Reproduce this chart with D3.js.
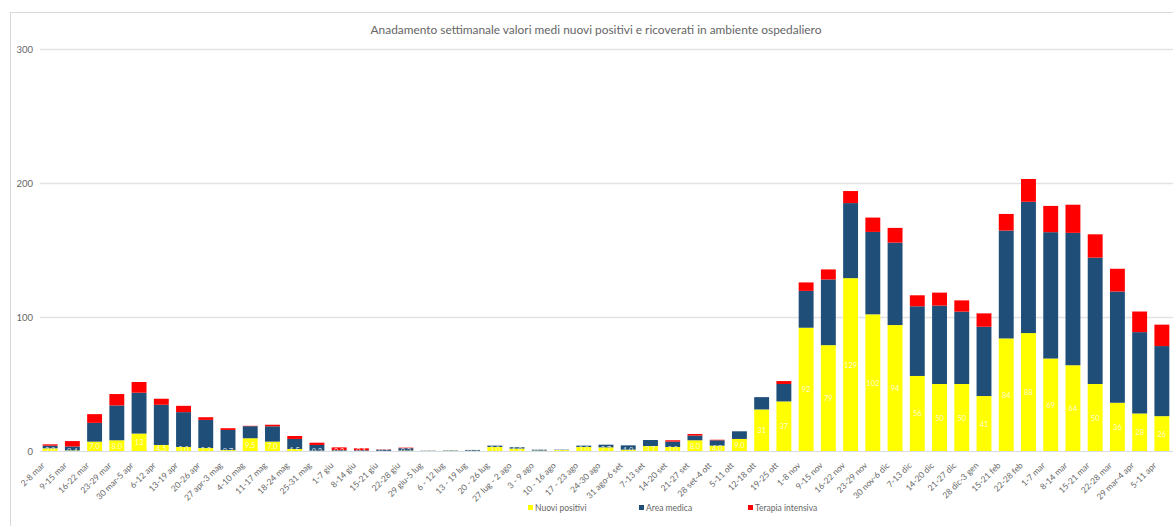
<!DOCTYPE html>
<html>
<head>
<meta charset="utf-8">
<script src="https://cdn.jsdelivr.net/npm/d3@7"></script>
<style>
  body { margin: 0; background: #fff; }
  svg { display: block; }
</style>
</head>
<body>
<svg id="chart" width="1173" height="526"></svg>
<script>
// weekly categories
const weeks = [
  "2-8 mar", "9-15 mar", "16-22 mar", "23-29 mar", "30 mar-5 apr", "6-12 apr",
  "13-19 apr", "20-26 apr", "27 apr-3 mag", "4-10 mag", "11-17 mag", "18-24 mag",
  "25-31 mag", "1-7 giu", "8-14 giu", "15-21 giu", "22-28 giu", "29 giu-5 lug",
  "6 - 12 lug", "13 - 19 lug", "20 - 26 lug", "27 lug - 2 ago", "3 - 9 ago",
  "10 - 16 ago", "17 - 23 ago", "24-30 ago", "31 ago-6 set", "7-13 set",
  "14-20 set", "21-27 set", "28 set-4 ott", "5-11 ott", "12-18 ott", "19-25 ott",
  "1-8 nov", "9-15 nov", "16-22 nov", "23-29 nov", "30 nov-6 dic", "7-13 dic",
  "14-20 dic", "21-27 dic", "28 dic-3 gen", "15-21 feb", "22-28 feb", "1-7 mar",
  "8-14 mar", "15-21 mar", "22-28 mar", "29 mar-4 apr", "5-11 apr"
];

const nuoviPositivi = [
  2, 0.4, 7, 8, 13, 4.5, 3, 2.2, 0.7, 9.5, 7, 1.5,
  0.2, 0.2, 0.1, 0.1, 0.3, 0.1, 0.2, 0.2, 3, 1.8, 0.3,
  0.7, 3, 2.7, 1, 3.7, 3, 8, 4, 9, 31, 37,
  92, 79, 129, 102, 94, 56, 50, 50, 41, 84, 88, 69,
  64, 50, 36, 28, 26
];

const areaMedica = [
  2, 3, 14, 26, 30.5, 30, 26, 21, 15, 9, 11.4, 7.5,
  4.3, 0.5, 0.5, 0.9, 1.8, 0.2, 0.3, 0.6, 1, 1, 0.7,
  0.3, 1, 2, 3.2, 4.5, 4, 3.5, 4, 5.7, 9.2, 13,
  27.5, 49, 56, 61.5, 61.5, 52, 58.5, 54, 51.7, 80.5, 98, 94.3,
  98.8, 94.3, 83, 60.7, 52.3
];

const terapiaIntensiva = [
  1, 4, 6.5, 8.5, 8, 4.5, 4.7, 2, 1.3, 0.3, 1.2, 2.2,
  1.7, 2, 1.4, 0.2, 0.4, 0, 0, 0, 0, 0, 0,
  0, 0, 0, 0, 0, 1, 1.2, 0.4, 0, 0, 2.2,
  6.3, 7.5, 9, 10.7, 11, 8.2, 9.7, 8.4, 10, 12.4, 17, 19.6,
  21, 17.4, 17, 15.4, 16
];

const yTicks = [0, 100, 200, 300];

const seriesNames = ["Nuovi positivi", "Area medica", "Terapia intensiva"];
const seriesKeys = ["np", "am", "ti"];
const colors = ["#ffff00", "#1f4e79", "#ff0000"];

const rows = weeks.map((w, i) => ({
  week: w, np: nuoviPositivi[i], am: areaMedica[i], ti: terapiaIntensiva[i]
}));

const svg = d3.select("#chart");
const font = "Lato, 'Open Sans', sans-serif";
const textColor = "#666666";

// chart frame (runs off the page on the right and bottom)
svg.append("rect")
  .attr("x", 10.5).attr("y", 12.5)
  .attr("width", 1300).attr("height", 600)
  .attr("fill", "none")
  .attr("stroke", "#d9d9d9");

svg.append("text")
  .attr("x", 596).attr("y", 34)
  .attr("text-anchor", "middle")
  .attr("font-family", font)
  .attr("font-size", "11.9px")
  .attr("fill", textColor)
  .text("Anadamento settimanale valori medi nuovi positivi e ricoverati in ambiente ospedaliero");

const x = d3.scaleBand()
  .domain(weeks)
  .range([39, 1173])
  .paddingInner(0.33)
  .paddingOuter(0.165);

const y = d3.scaleLinear()
  .domain([0, 300])
  .range([451, 49]);

// gridlines
svg.append("g")
  .selectAll("line")
  .data(yTicks.filter(d => d > 0))
  .join("line")
  .attr("x1", 40).attr("x2", 1173)
  .attr("y1", d => Math.round(y(d)) + 0.5)
  .attr("y2", d => Math.round(y(d)) + 0.5)
  .attr("stroke", "#e3e3e3")
  .attr("stroke-width", 1.5);

// y axis labels
const yAxis = svg.append("g")
  .attr("transform", "translate(33,0)")
  .call(d3.axisLeft(y).tickValues(yTicks).tickSize(0).tickPadding(0));
yAxis.select(".domain").remove();
yAxis.selectAll("text")
  .attr("font-family", font)
  .attr("font-size", "9.5px")
  .attr("fill", textColor);

// stacked bars
const stack = d3.stack().keys(seriesKeys)(rows);

svg.append("g")
  .selectAll("g")
  .data(stack)
  .join("g")
  .attr("fill", (d, i) => colors[i])
  .selectAll("rect")
  .data(d => d)
  .join("rect")
  .attr("x", d => x(d.data.week))
  .attr("width", x.bandwidth())
  .attr("y", d => y(d[1]))
  .attr("height", d => Math.max(0, y(d[0]) - y(d[1])));

// data labels (new positives, white, inside the yellow segment)
svg.append("g")
  .selectAll("text")
  .data(rows)
  .join("text")
  .attr("x", d => x(d.week) + x.bandwidth() / 2)
  .attr("y", d => y(d.np / 2) + 3)
  .attr("text-anchor", "middle")
  .attr("font-family", font)
  .attr("font-size", "7.5px")
  .attr("fill", "#ffffff")
  .attr("fill-opacity", 0.85)
  .text(d => d.np >= 10 ? Math.round(d.np) : d3.format(".1f")(d.np));

// category axis
const xAxis = svg.append("g")
  .attr("transform", "translate(0,451)")
  .call(d3.axisBottom(x).tickSize(0).tickPadding(0));
xAxis.select(".domain")
  .attr("d", "M40,0.5H1173")
  .attr("stroke", "#d6dce5");
xAxis.selectAll(".tick text")
  .attr("font-family", font)
  .attr("font-size", "8.5px")
  .attr("fill", textColor)
  .attr("text-anchor", "end")
  .attr("dy", null)
  .attr("transform", "translate(-5,15) rotate(-45)");

// legend
const legend = svg.append("g")
  .attr("transform", "translate(528,508)");
const legendX = [0, 111, 220];
seriesNames.forEach((name, i) => {
  const item = legend.append("g").attr("transform", `translate(${legendX[i]},0)`);
  item.append("rect")
    .attr("x", 0).attr("y", -3)
    .attr("width", 5).attr("height", 5)
    .attr("fill", colors[i]);
  item.append("text")
    .attr("x", 7).attr("y", 2.5)
    .attr("font-family", font)
    .attr("font-size", "8.5px")
    .attr("fill", textColor)
    .text(name);
});
</script>
</body>
</html>
